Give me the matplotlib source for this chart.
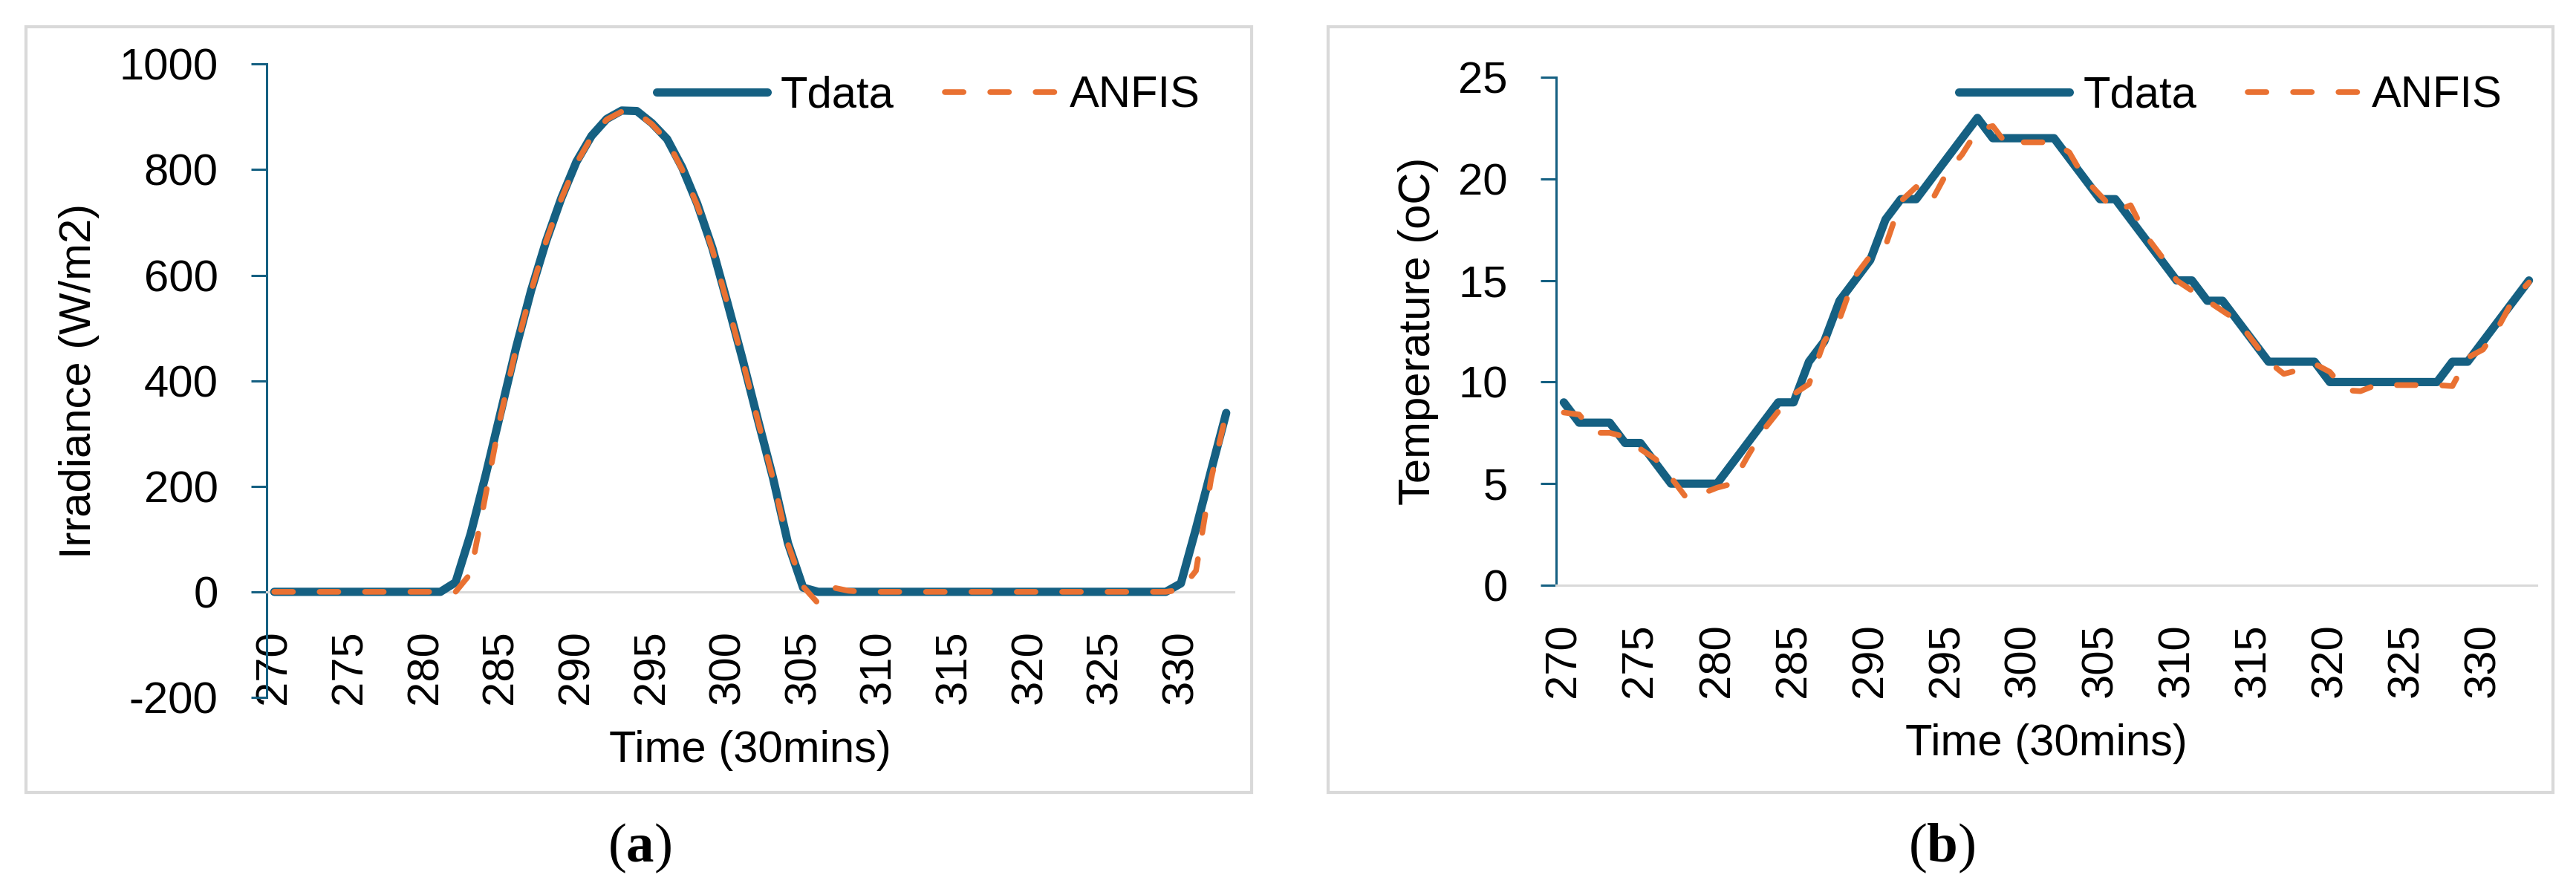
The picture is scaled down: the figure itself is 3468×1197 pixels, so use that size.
# # ANFIS VS MEASURED DATA

# importing libraries

import matplotlib
matplotlib.use('Agg')
from matplotlib import pyplot as plt
from matplotlib.patches import Rectangle

plt.rcParams['font.family'] = ['Liberation Sans', 'DejaVu Sans']
plt.rcParams['axes.unicode_minus'] = False
plt.rcParams['mathtext.fontset'] = 'custom'
plt.rcParams['mathtext.rm'] = 'Liberation Serif'
plt.rcParams['mathtext.bf'] = 'Liberation Serif:bold'

# data

time = list(range(270, 334))
x_ticks = list(range(270, 331, 5))

irr_tdata = [0] * 12 + [18, 110, 222, 342, 462, 571, 665, 746, 815, 864, 896, 912,
                        911, 888, 858, 804, 735, 651, 547, 440, 327, 217, 92, 8] + \
            [0] * 24 + [16, 120, 230, 339]
irr_anfis = [0] * 12 + [0, 35, 185, 335, 460, 570, 665, 745, 812, 862, 895, 910,
                        908, 886, 855, 800, 732, 648, 545, 438, 325, 215, 90, 10,
                        -22, 8, 2] + \
            [0] * 21 + [4, 40, 214, 339]
irr_ticks = [-200, 0, 200, 400, 600, 800, 1000]

temp_tdata = [9, 8, 8, 8, 7, 7, 6, 5, 5, 5, 5, 6, 7, 8, 9, 9, 11, 12, 14, 15, 16, 18,
              19, 19, 20, 21, 22, 23, 22, 22, 22, 22, 22, 21, 20, 19, 19, 18, 17, 16,
              15, 15, 14, 14, 13, 12, 11, 11, 11, 11, 10, 10, 10, 10, 10, 10, 10, 10,
              11, 11, 12, 13, 14, 15]
temp_anfis = [8.5, 8.4, 7.5, 7.5, 7.3, 6.7, 6.2, 5.3, 4.3, 4.5, 4.8, 5.0, 6.35, 7.6,
              8.55, 9.4, 9.9, 12.0, 13.1, 15.2, 16.2, 16.7, 18.9, 19.6, 18.9, 20.3,
              21.2, 22.4, 22.6, 21.6, 21.8, 21.8, 21.8, 21.3, 20.0, 19.2, 18.4, 18.7,
              17.2, 16.2, 15.0, 14.5, 14.0, 13.5, 13.0, 12.0, 11.0, 10.4, 10.6, 10.9,
              10.5, 9.6, 9.55, 9.85, 9.85, 9.85, 9.85, 9.85, 9.8, 11.2, 11.6, 12.7,
              14.1, 14.9]
temp_ticks = [0, 5, 10, 15, 20, 25]

# styles

BLUE = '#156082'
ORANGE = '#E97132'
GRAY = '#D9D9D9'
FS = 43
W, H = 3468, 1197

fig = plt.figure(figsize = (W / 100, H / 100), dpi = 100)

# chart area boxes and panel letters

for x0, x1, letter, xc in [(35, 1685, 'a', 861), (1788, 3437, 'b', 2614)]:
    fig.patches.append(Rectangle((x0 / W, 1 - 1067 / H), (x1 - x0) / W, (1067 - 36) / H,
                                 transform = fig.transFigure, fill = False,
                                 edgecolor = GRAY, linewidth = 3))
    fig.text(xc / W, 1 - 1142 / H, r'($\mathbf{%s}$)' % letter, ha = 'center', va = 'center',
             fontsize = 54, family = 'Liberation Serif')


def draw_panel(ax, tdata, anfis, ylim, yticks, ylabel, ylabel_x, legend_y, zero_axis):
    ax.plot(time, tdata, color = BLUE, linewidth = 8, solid_capstyle = 'round',
            solid_joinstyle = 'round', label = 'Tdata', zorder = 3)
    ax.plot(time, anfis, color = ORANGE, linewidth = 5.5, linestyle = (0, (3.3, 4.7)),
            dash_capstyle = 'round', dash_joinstyle = 'round', label = 'ANFIS', zorder = 4)

    ax.set_xlim(269.5, 333.5)
    ax.set_ylim(*ylim)
    ax.set_xticks(x_ticks)
    ax.set_yticks(yticks)

    for side in ['top', 'right']:
        ax.spines[side].set_visible(False)
    ax.spines['left'].set_color(BLUE)
    ax.spines['left'].set_linewidth(2.2)
    ax.spines['bottom'].set_color(GRAY)
    ax.spines['bottom'].set_linewidth(2.2)
    if zero_axis:
        ax.spines['bottom'].set_position(('data', 0))

    ax.tick_params(axis = 'x', length = 0, pad = 37, labelrotation = 90, labelsize = FS)
    ax.tick_params(axis = 'y', length = 15, width = 2.2, color = BLUE, pad = 32, labelsize = FS)

    ax.set_xlabel('Time (30mins)', fontsize = FS, labelpad = 25)
    ax.set_ylabel(ylabel, fontsize = FS)
    ax.yaxis.set_label_coords(ylabel_x, 0.5)

    ax.legend(loc = 'center right', bbox_to_anchor = (0.965, legend_y), ncol = 2,
              frameon = False, fontsize = FS, handlelength = 2.5, handletextpad = 0.3,
              columnspacing = 1.15, borderpad = 0, borderaxespad = 0)


# (a) irradiance

ax_a = fig.add_axes([359 / W, 1 - 939 / H, 1302 / W, (939 - 86.3) / H])
draw_panel(ax_a, irr_tdata, irr_anfis, (-200, 1000), irr_ticks, 'Irradiance (W/m2)',
           -0.1728, 0.95, True)

# (b) temperature

ax_b = fig.add_axes([2095 / W, 1 - 788 / H, 1320 / W, (788 - 104) / H])
draw_panel(ax_b, temp_tdata, temp_anfis, (0, 25), temp_ticks, 'Temperature (oC)',
           -0.1197, 0.9635, False)

fig.savefig('out.png', dpi = 100)
